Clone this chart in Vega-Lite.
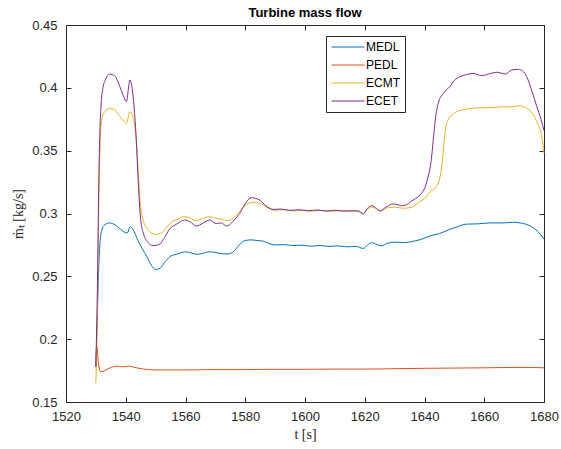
{
  "$schema": "https://vega.github.io/schema/vega-lite/v6.json",
  "autosize": {"type": "none"},
  "padding": {"left": 66, "top": 25, "right": 17, "bottom": 47},
  "width": 478,
  "height": 377,
  "background": "white",
  "title": {"text": "Turbine mass flow", "font": "Liberation Sans", "fontSize": 13, "fontWeight": "bold", "color": "#000000", "offset": -1},
  "config": {
    "view": {"stroke": null},
    "axis": {"grid": false, "domainColor": "#262626", "tickColor": "#262626", "labelColor": "#262626", "labelFont": "Liberation Sans", "labelFontSize": 13, "tickSize": -5, "domainWidth": 1, "tickWidth": 1, "titleFont": "Liberation Serif", "titleFontSize": 14, "titleFontWeight": "normal", "titleColor": "#262626"}
  },
  "data": {"values": [
    {"s":"MEDL","t":1530,"v":0.178},{"s":"MEDL","t":1530.5,"v":0.22},{"s":"MEDL","t":1531,"v":0.26},{"s":"MEDL","t":1531.5,"v":0.28},{"s":"MEDL","t":1532,"v":0.287},{"s":"MEDL","t":1533,"v":0.291},{"s":"MEDL","t":1534.5,"v":0.2925},{"s":"MEDL","t":1536,"v":0.2915},{"s":"MEDL","t":1537.5,"v":0.289},{"s":"MEDL","t":1539,"v":0.286},{"s":"MEDL","t":1540.5,"v":0.2845},{"s":"MEDL","t":1541.5,"v":0.2895},{"s":"MEDL","t":1542.5,"v":0.287},{"s":"MEDL","t":1544,"v":0.279},{"s":"MEDL","t":1545.5,"v":0.272},{"s":"MEDL","t":1547,"v":0.266},{"s":"MEDL","t":1548.5,"v":0.259},{"s":"MEDL","t":1550,"v":0.2555},{"s":"MEDL","t":1551.5,"v":0.2565},{"s":"MEDL","t":1553,"v":0.261},{"s":"MEDL","t":1555,"v":0.266},{"s":"MEDL","t":1557,"v":0.2675},{"s":"MEDL","t":1560,"v":0.2695},{"s":"MEDL","t":1562,"v":0.2685},{"s":"MEDL","t":1564,"v":0.2675},{"s":"MEDL","t":1566,"v":0.2685},{"s":"MEDL","t":1568,"v":0.2695},{"s":"MEDL","t":1570,"v":0.269},{"s":"MEDL","t":1572,"v":0.268},{"s":"MEDL","t":1574,"v":0.2678},{"s":"MEDL","t":1576,"v":0.2695},{"s":"MEDL","t":1578,"v":0.275},{"s":"MEDL","t":1580,"v":0.2785},{"s":"MEDL","t":1582,"v":0.279},{"s":"MEDL","t":1584,"v":0.2785},{"s":"MEDL","t":1586,"v":0.278},{"s":"MEDL","t":1588,"v":0.276},{"s":"MEDL","t":1590,"v":0.275},{"s":"MEDL","t":1593,"v":0.2752},{"s":"MEDL","t":1596,"v":0.2745},{"s":"MEDL","t":1599,"v":0.2748},{"s":"MEDL","t":1602,"v":0.274},{"s":"MEDL","t":1605,"v":0.2745},{"s":"MEDL","t":1608,"v":0.2738},{"s":"MEDL","t":1611,"v":0.2742},{"s":"MEDL","t":1614,"v":0.2735},{"s":"MEDL","t":1617,"v":0.2738},{"s":"MEDL","t":1619.5,"v":0.2722},{"s":"MEDL","t":1621,"v":0.275},{"s":"MEDL","t":1622.3,"v":0.2768},{"s":"MEDL","t":1624,"v":0.2755},{"s":"MEDL","t":1625.5,"v":0.2742},{"s":"MEDL","t":1627.5,"v":0.2762},{"s":"MEDL","t":1630,"v":0.2772},{"s":"MEDL","t":1633,"v":0.2768},{"s":"MEDL","t":1636,"v":0.2778},{"s":"MEDL","t":1639,"v":0.2795},{"s":"MEDL","t":1642,"v":0.2823},{"s":"MEDL","t":1645,"v":0.284},{"s":"MEDL","t":1648,"v":0.287},{"s":"MEDL","t":1651,"v":0.2895},{"s":"MEDL","t":1654,"v":0.2915},{"s":"MEDL","t":1658,"v":0.2918},{"s":"MEDL","t":1662,"v":0.2925},{"s":"MEDL","t":1666,"v":0.2925},{"s":"MEDL","t":1670,"v":0.293},{"s":"MEDL","t":1672,"v":0.2925},{"s":"MEDL","t":1675,"v":0.2905},{"s":"MEDL","t":1678,"v":0.2855},{"s":"MEDL","t":1680,"v":0.2795},
    {"s":"PEDL","t":1530,"v":0.178},{"s":"PEDL","t":1530.3,"v":0.194},{"s":"PEDL","t":1531,"v":0.178},{"s":"PEDL","t":1531.7,"v":0.174},{"s":"PEDL","t":1533,"v":0.175},{"s":"PEDL","t":1535,"v":0.1775},{"s":"PEDL","t":1537,"v":0.1785},{"s":"PEDL","t":1539,"v":0.178},{"s":"PEDL","t":1541,"v":0.1785},{"s":"PEDL","t":1543,"v":0.1775},{"s":"PEDL","t":1546,"v":0.1762},{"s":"PEDL","t":1550,"v":0.1755},{"s":"PEDL","t":1560,"v":0.1755},{"s":"PEDL","t":1570,"v":0.1758},{"s":"PEDL","t":1580,"v":0.1758},{"s":"PEDL","t":1590,"v":0.176},{"s":"PEDL","t":1600,"v":0.176},{"s":"PEDL","t":1610,"v":0.1762},{"s":"PEDL","t":1620,"v":0.1762},{"s":"PEDL","t":1630,"v":0.1765},{"s":"PEDL","t":1640,"v":0.1768},{"s":"PEDL","t":1650,"v":0.177},{"s":"PEDL","t":1660,"v":0.1772},{"s":"PEDL","t":1670,"v":0.1775},{"s":"PEDL","t":1675,"v":0.1775},{"s":"PEDL","t":1680,"v":0.1772},
    {"s":"ECMT","t":1530,"v":0.165},{"s":"ECMT","t":1530.5,"v":0.22},{"s":"ECMT","t":1531,"v":0.31},{"s":"ECMT","t":1531.5,"v":0.36},{"s":"ECMT","t":1532,"v":0.375},{"s":"ECMT","t":1533,"v":0.381},{"s":"ECMT","t":1534.5,"v":0.3835},{"s":"ECMT","t":1536,"v":0.383},{"s":"ECMT","t":1537.5,"v":0.379},{"s":"ECMT","t":1539,"v":0.374},{"s":"ECMT","t":1540.2,"v":0.3718},{"s":"ECMT","t":1541.4,"v":0.381},{"s":"ECMT","t":1542.3,"v":0.377},{"s":"ECMT","t":1543.3,"v":0.364},{"s":"ECMT","t":1544,"v":0.34},{"s":"ECMT","t":1544.8,"v":0.31},{"s":"ECMT","t":1545.7,"v":0.296},{"s":"ECMT","t":1547,"v":0.2885},{"s":"ECMT","t":1548.5,"v":0.2845},{"s":"ECMT","t":1550.2,"v":0.2834},{"s":"ECMT","t":1552,"v":0.2845},{"s":"ECMT","t":1554,"v":0.29},{"s":"ECMT","t":1555.5,"v":0.2935},{"s":"ECMT","t":1557.5,"v":0.2955},{"s":"ECMT","t":1559.5,"v":0.2975},{"s":"ECMT","t":1561.5,"v":0.2965},{"s":"ECMT","t":1563.6,"v":0.2943},{"s":"ECMT","t":1566,"v":0.2962},{"s":"ECMT","t":1568,"v":0.2975},{"s":"ECMT","t":1570,"v":0.2962},{"s":"ECMT","t":1572,"v":0.2955},{"s":"ECMT","t":1574,"v":0.2943},{"s":"ECMT","t":1576,"v":0.2965},{"s":"ECMT","t":1578,"v":0.3015},{"s":"ECMT","t":1580.4,"v":0.307},{"s":"ECMT","t":1582.5,"v":0.309},{"s":"ECMT","t":1585,"v":0.308},{"s":"ECMT","t":1588,"v":0.304},{"s":"ECMT","t":1590,"v":0.3025},{"s":"ECMT","t":1593,"v":0.303},{"s":"ECMT","t":1596,"v":0.302},{"s":"ECMT","t":1599,"v":0.3025},{"s":"ECMT","t":1602,"v":0.3018},{"s":"ECMT","t":1605,"v":0.3024},{"s":"ECMT","t":1608,"v":0.3018},{"s":"ECMT","t":1611,"v":0.3022},{"s":"ECMT","t":1614,"v":0.3018},{"s":"ECMT","t":1617,"v":0.302},{"s":"ECMT","t":1619.5,"v":0.3},{"s":"ECMT","t":1621,"v":0.3035},{"s":"ECMT","t":1622.3,"v":0.305},{"s":"ECMT","t":1624,"v":0.3035},{"s":"ECMT","t":1625.5,"v":0.302},{"s":"ECMT","t":1627.5,"v":0.3045},{"s":"ECMT","t":1630,"v":0.305},{"s":"ECMT","t":1633,"v":0.3042},{"s":"ECMT","t":1635.5,"v":0.3048},{"s":"ECMT","t":1637.5,"v":0.308},{"s":"ECMT","t":1640,"v":0.312},{"s":"ECMT","t":1642,"v":0.3175},{"s":"ECMT","t":1644,"v":0.3215},{"s":"ECMT","t":1645,"v":0.327},{"s":"ECMT","t":1645.8,"v":0.338},{"s":"ECMT","t":1646.5,"v":0.355},{"s":"ECMT","t":1647,"v":0.367},{"s":"ECMT","t":1648,"v":0.375},{"s":"ECMT","t":1650,"v":0.38},{"s":"ECMT","t":1652,"v":0.382},{"s":"ECMT","t":1655,"v":0.3835},{"s":"ECMT","t":1658,"v":0.384},{"s":"ECMT","t":1661,"v":0.3842},{"s":"ECMT","t":1664,"v":0.3845},{"s":"ECMT","t":1667,"v":0.385},{"s":"ECMT","t":1669,"v":0.3848},{"s":"ECMT","t":1671.5,"v":0.3857},{"s":"ECMT","t":1674,"v":0.384},{"s":"ECMT","t":1676,"v":0.38},{"s":"ECMT","t":1678,"v":0.371},{"s":"ECMT","t":1679.2,"v":0.362},{"s":"ECMT","t":1680,"v":0.348},
    {"s":"ECET","t":1530,"v":0.178},{"s":"ECET","t":1530.5,"v":0.24},{"s":"ECET","t":1531,"v":0.33},{"s":"ECET","t":1531.7,"v":0.385},{"s":"ECET","t":1532.3,"v":0.399},{"s":"ECET","t":1533.3,"v":0.407},{"s":"ECET","t":1534.5,"v":0.411},{"s":"ECET","t":1535.5,"v":0.4105},{"s":"ECET","t":1536.5,"v":0.409},{"s":"ECET","t":1537.5,"v":0.404},{"s":"ECET","t":1538.5,"v":0.398},{"s":"ECET","t":1539.5,"v":0.392},{"s":"ECET","t":1540.2,"v":0.389},{"s":"ECET","t":1541.4,"v":0.4062},{"s":"ECET","t":1542.6,"v":0.39},{"s":"ECET","t":1543.5,"v":0.36},{"s":"ECET","t":1544.3,"v":0.32},{"s":"ECET","t":1545,"v":0.295},{"s":"ECET","t":1546,"v":0.2835},{"s":"ECET","t":1547.5,"v":0.277},{"s":"ECET","t":1549.1,"v":0.2744},{"s":"ECET","t":1551.3,"v":0.2755},{"s":"ECET","t":1553,"v":0.281},{"s":"ECET","t":1554.7,"v":0.2877},{"s":"ECET","t":1557,"v":0.2915},{"s":"ECET","t":1559.7,"v":0.2948},{"s":"ECET","t":1561.5,"v":0.2935},{"s":"ECET","t":1563.6,"v":0.29},{"s":"ECET","t":1566,"v":0.2925},{"s":"ECET","t":1568,"v":0.2948},{"s":"ECET","t":1570.3,"v":0.292},{"s":"ECET","t":1572,"v":0.2925},{"s":"ECET","t":1573.7,"v":0.29},{"s":"ECET","t":1576,"v":0.294},{"s":"ECET","t":1578.1,"v":0.3},{"s":"ECET","t":1580.4,"v":0.3093},{"s":"ECET","t":1582,"v":0.3126},{"s":"ECET","t":1584.8,"v":0.3107},{"s":"ECET","t":1587,"v":0.306},{"s":"ECET","t":1589.3,"v":0.3033},{"s":"ECET","t":1592,"v":0.3035},{"s":"ECET","t":1595,"v":0.3025},{"s":"ECET","t":1598,"v":0.303},{"s":"ECET","t":1601,"v":0.3022},{"s":"ECET","t":1604,"v":0.3028},{"s":"ECET","t":1607,"v":0.302},{"s":"ECET","t":1610,"v":0.3025},{"s":"ECET","t":1613,"v":0.302},{"s":"ECET","t":1616,"v":0.3022},{"s":"ECET","t":1618,"v":0.302},{"s":"ECET","t":1619.5,"v":0.2996},{"s":"ECET","t":1621,"v":0.3045},{"s":"ECET","t":1622.3,"v":0.3062},{"s":"ECET","t":1624,"v":0.304},{"s":"ECET","t":1625,"v":0.302},{"s":"ECET","t":1627.3,"v":0.3054},{"s":"ECET","t":1629.5,"v":0.3076},{"s":"ECET","t":1632.9,"v":0.3062},{"s":"ECET","t":1636.2,"v":0.3107},{"s":"ECET","t":1638,"v":0.3135},{"s":"ECET","t":1639,"v":0.316},{"s":"ECET","t":1640.5,"v":0.323},{"s":"ECET","t":1641.2,"v":0.3293},{"s":"ECET","t":1642,"v":0.338},{"s":"ECET","t":1642.6,"v":0.35},{"s":"ECET","t":1643.2,"v":0.365},{"s":"ECET","t":1643.8,"v":0.378},{"s":"ECET","t":1644.6,"v":0.3877},{"s":"ECET","t":1646.3,"v":0.3957},{"s":"ECET","t":1648.5,"v":0.401},{"s":"ECET","t":1650,"v":0.406},{"s":"ECET","t":1651.9,"v":0.4089},{"s":"ECET","t":1654,"v":0.4105},{"s":"ECET","t":1656.3,"v":0.4115},{"s":"ECET","t":1659.1,"v":0.4097},{"s":"ECET","t":1661.5,"v":0.411},{"s":"ECET","t":1664.2,"v":0.4124},{"s":"ECET","t":1667,"v":0.411},{"s":"ECET","t":1669.2,"v":0.4142},{"s":"ECET","t":1671.4,"v":0.4147},{"s":"ECET","t":1672.8,"v":0.4135},{"s":"ECET","t":1674.2,"v":0.4089},{"s":"ECET","t":1676,"v":0.397},{"s":"ECET","t":1677.6,"v":0.385},{"s":"ECET","t":1679,"v":0.375},{"s":"ECET","t":1680,"v":0.366}
  ]},
  "layer": [
    {
      "mark": {"type": "line", "strokeWidth": 1, "interpolate": "monotone"},
      "encoding": {
        "x": {"field": "t", "type": "quantitative", "scale": {"domain": [1520, 1680], "nice": false, "zero": false},
              "axis": {"orient": "bottom", "values": [1520,1540,1560,1580,1600,1620,1640,1660,1680], "format": "d", "title": "t [s]", "labelPadding": 13, "titlePadding": 4, "labelFlush": false}},
        "y": {"field": "v", "type": "quantitative", "scale": {"domain": [0.15, 0.45], "nice": false, "zero": false},
              "axis": {"orient": "left", "values": [0.15,0.2,0.25,0.3,0.35,0.4,0.45], "format": "~g", "title": "ṁₜ [kg/s]", "labelPadding": 14, "titlePadding": 6, "labelFlush": false}},
        "color": {"field": "s", "type": "nominal",
                  "scale": {"domain": ["MEDL","PEDL","ECMT","ECET"], "range": ["#0072BD","#D95319","#EDB120","#7E2F8E"]},
                  "legend": {"title": null, "orient": "none", "legendX": 260, "legendY": 11, "direction": "vertical",
                             "symbolType": "M-3,0H3", "symbolSize": 121, "symbolStrokeWidth": 1, "symbolOffset": 11,
                             "labelOffset": 12, "labelFont": "Liberation Sans", "labelFontSize": 12, "labelColor": "#000000",
                             "rowPadding": 6, "padding": 5, "strokeColor": "#262626", "fillColor": "white"}}
      }
    },
    {
      "mark": {"type": "line", "strokeOpacity": 0},
      "encoding": {
        "x": {"field": "t", "type": "quantitative", "axis": {"orient": "top", "values": [1520,1540,1560,1580,1600,1620,1640,1660,1680], "labels": false, "title": null}},
        "y": {"field": "v", "type": "quantitative", "axis": {"orient": "right", "values": [0.15,0.2,0.25,0.3,0.35,0.4,0.45], "labels": false, "title": null}}
      }
    }
  ],
  "resolve": {"axis": {"x": "independent", "y": "independent"}}
}
